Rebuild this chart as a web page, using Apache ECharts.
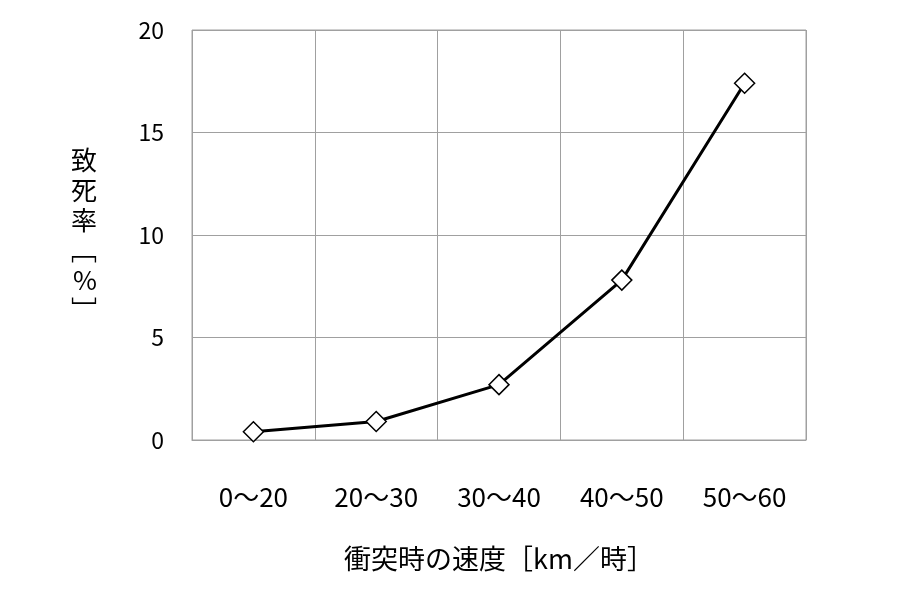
<!DOCTYPE html>
<html><head><meta charset="utf-8">
<script src="https://cdn.jsdelivr.net/npm/echarts@6/dist/echarts.min.js"></script>
<style>html,body{margin:0;background:#fff}#main{width:900px;height:600px}</style>
</head><body><div id="main"></div>
<script>
var categories = ['0～20', '20～30', '30～40', '40～50', '50～60'];
var fatality = [0.4, 0.9, 2.7, 7.8, 17.4];
var yTicks = [0, 5, 10, 15, 20];

var font = '"Noto Sans CJK JP", "Noto Sans", sans-serif';
var chart = echarts.init(document.getElementById('main'));
chart.setOption({
  backgroundColor: '#fff',
  animation: false,
  grid: { left: 192, right: 94, top: 30, bottom: 160, show: true, borderColor: '#a0a0a0', borderWidth: 1 },
  xAxis: {
    type: 'category',
    data: categories,
    boundaryGap: true,
    axisLine: { lineStyle: { color: '#a0a0a0' } },
    axisTick: { show: false },
    splitLine: { show: true, lineStyle: { color: '#a0a0a0' } },
    axisLabel: { color: '#000', fontSize: 26, margin: 44, fontFamily: font },
    name: '衝突時の速度［km／時］',
    nameLocation: 'middle',
    nameGap: 105,
    nameTextStyle: { color: '#000', fontSize: 27, fontFamily: font }
  },
  yAxis: {
    type: 'value',
    min: yTicks[0], max: yTicks[yTicks.length - 1], interval: 5,
    axisLine: { show: false },
    axisTick: { show: false },
    splitLine: { lineStyle: { color: '#a0a0a0' } },
    axisLabel: { color: '#000', fontSize: 23, margin: 28, fontFamily: font },
    name: '致\n死\n率\n﹇\n%\n﹈',
    nameLocation: 'middle',
    nameRotate: 0,
    nameGap: 95,
    nameTextStyle: { color: '#000', fontSize: 26, lineHeight: 30, fontFamily: font, padding: [60, 0, 0, 0] }
  },
  series: [{
    type: 'line',
    data: fatality,
    symbol: 'diamond',
    symbolSize: [20, 20],
    lineStyle: { color: '#000', width: 3 },
    itemStyle: { color: '#fff', borderColor: '#000', borderWidth: 1.5 }
  }]
});
window.addEventListener('resize', chart.resize);
</script></body></html>
